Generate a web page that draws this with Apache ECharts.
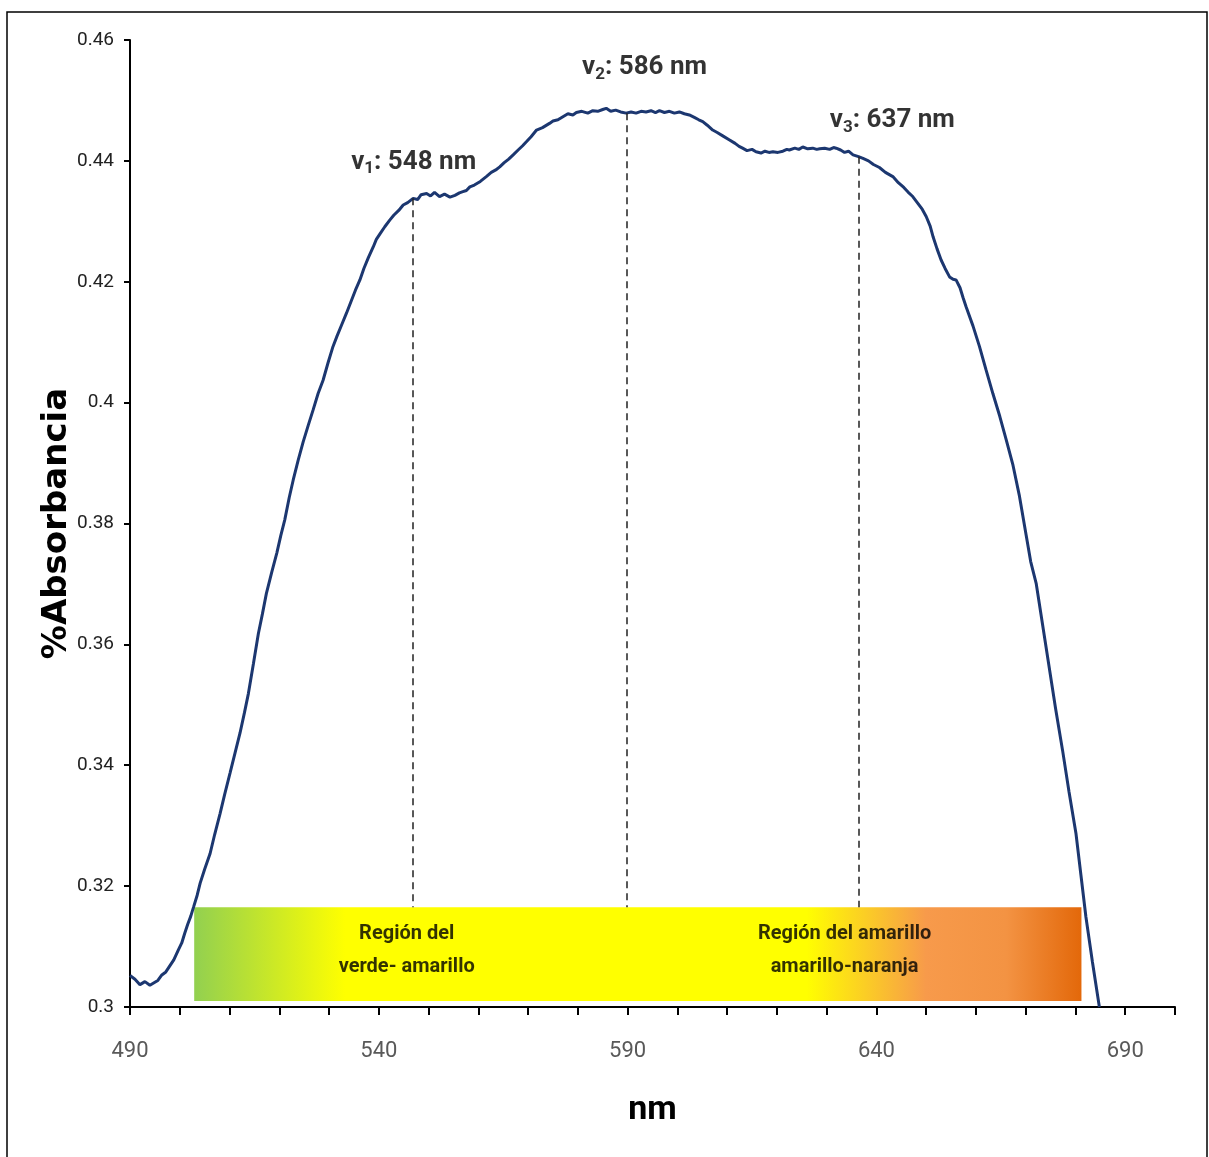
<!DOCTYPE html>
<html>
<head>
<meta charset="utf-8">
<script src="https://cdn.jsdelivr.net/npm/echarts@6/dist/echarts.min.js"></script>
<style>html,body{margin:0;padding:0;background:#fff;}#c{width:1209px;height:1157px;}</style>
</head>
<body>
<div id="c"></div>
<script>
const wavelengths = [490.0,491.0,492.0,493.0,494.0,495.0,495.6,496.4,497.2,498.0,498.8,499.7,500.4,501.0,501.6,502.2,502.8,503.5,504.1,505.0,506.1,507.0,508.1,509.0,510.1,511.1,512.1,513.0,513.8,514.8,515.8,516.6,517.4,518.5,519.5,520.3,521.1,522.0,522.8,523.8,524.8,525.8,526.8,527.8,528.8,529.8,530.8,531.6,532.5,533.5,534.4,535.3,536.2,537.0,537.9,538.9,539.5,540.3,541.2,542.2,543.0,544.0,544.9,545.8,546.9,547.8,548.5,549.6,550.4,551.2,552.2,553.2,554.3,555.3,556.2,556.9,557.6,558.3,559.2,560.4,561.6,562.6,563.5,564.3,565.2,566.1,567.0,568.0,568.9,569.7,570.6,571.7,572.9,574.3,575.0,576.0,577.0,578.0,579.0,579.7,580.8,582.0,583.0,584.0,585.0,585.7,586.6,587.6,588.6,589.7,590.7,591.7,592.7,593.7,594.7,595.6,596.4,597.4,598.4,599.4,600.4,601.4,602.4,603.4,604.3,605.1,606.0,607.1,608.0,609.2,610.4,611.6,612.4,613.1,614.0,615.0,615.8,616.8,617.6,618.4,619.2,620.2,621.2,622.0,622.5,623.6,624.4,625.2,626.2,627.2,628.0,628.6,629.6,630.6,631.4,631.9,632.8,633.6,634.4,635.3,636.4,637.3,638.4,639.4,640.6,641.8,643.3,644.4,645.5,646.4,647.3,648.4,649.2,650.0,650.8,651.4,652.2,653.0,653.8,654.7,655.4,656.0,656.8,657.4,658.0,659.4,660.7,662.0,663.4,664.8,666.1,667.4,668.7,670.1,671.0,672.1,673.4,674.7,676.0,677.4,678.7,680.1,681.1,682.1,683.4,684.8];
const absorbance = [0.3052,0.3046,0.3037,0.3042,0.3036,0.3041,0.3044,0.3053,0.3058,0.3068,0.3078,0.3094,0.3106,0.3122,0.3137,0.3150,0.3166,0.3185,0.3205,0.3228,0.3254,0.3285,0.3320,0.3351,0.3387,0.3420,0.3453,0.3487,0.3519,0.3568,0.3618,0.3650,0.3684,0.3720,0.3751,0.3780,0.3806,0.3843,0.3872,0.3905,0.3935,0.3962,0.3988,0.4015,0.4037,0.4066,0.4093,0.4110,0.4128,0.4148,0.4167,0.4186,0.4203,0.4222,0.4240,0.4258,0.4270,0.4280,0.4291,0.4302,0.4310,0.4318,0.4327,0.4331,0.4338,0.4336,0.4344,0.4346,0.4342,0.4348,0.4341,0.4345,0.4340,0.4343,0.4347,0.4349,0.4351,0.4357,0.4360,0.4366,0.4374,0.4381,0.4385,0.4390,0.4397,0.4403,0.4410,0.4418,0.4425,0.4432,0.4440,0.4451,0.4455,0.4462,0.4466,0.4468,0.4473,0.4478,0.4476,0.4480,0.4482,0.4479,0.4483,0.4482,0.4485,0.4487,0.4482,0.4484,0.4481,0.4479,0.4481,0.4479,0.4482,0.4481,0.4483,0.4480,0.4483,0.4480,0.4482,0.4479,0.4481,0.4478,0.4476,0.4472,0.4468,0.4465,0.4459,0.4451,0.4447,0.4441,0.4435,0.4429,0.4424,0.4421,0.4417,0.4419,0.4415,0.4413,0.4416,0.4414,0.4415,0.4414,0.4416,0.4419,0.4418,0.4421,0.4419,0.4423,0.4420,0.4421,0.4419,0.4420,0.4421,0.4419,0.4422,0.4421,0.4418,0.4414,0.4416,0.4410,0.4407,0.4404,0.4400,0.4394,0.4389,0.4381,0.4374,0.4364,0.4356,0.4348,0.4341,0.4329,0.4320,0.4308,0.4292,0.4274,0.4254,0.4236,0.4222,0.4208,0.4204,0.4203,0.4190,0.4174,0.4159,0.4127,0.4093,0.4055,0.4015,0.3977,0.3938,0.3898,0.3847,0.3780,0.3737,0.3701,0.3632,0.3563,0.3494,0.3425,0.3356,0.3287,0.3218,0.3149,0.3075,0.3000];

const peakWavelengths = [546.8, 589.8, 636.4];
const peakAbsorbance = [0.4338, 0.4479, 0.4407];
const peakIndex = ['1', '2', '3'];
const peakNm = ['548', '586', '637'];

const regionRange = [502.9, 681.2];
const regionValues = [0.3010, 0.3165];
const regionTexts = ['Región del\nverde- amarillo', 'Región del amarillo\namarillo-naranja'];

const xTickLabels = [490, 540, 590, 640, 690];
const yMin = 0.30, yMax = 0.46, yStep = 0.02;
const xMin = 490, xMax = 700, xStep = 10;

const NARROW = "'Liberation Sans Narrow','Arial Narrow',Roboto,sans-serif";

const lineData = wavelengths.map((w, i) => [w, absorbance[i]]);

// annotation anchors (label layout)
const peakLabelAnchors = [[547.0, 0.4398], [593.4, 0.4554], [643.2, 0.4466]];
const regionLabelAnchors = [[545.6, 0.3094], [633.6, 0.3094]];

const chart = echarts.init(document.getElementById('c'), null, {renderer: 'canvas'});
chart.setOption({
  animation: false,
  backgroundColor: '#fff',
  grid: {left: 130, right: 34, top: 40, bottom: 150, containLabel: false},
  xAxis: {
    type: 'value', min: xMin, max: xMax, interval: xStep,
    name: 'nm', nameLocation: 'middle', nameGap: 86,
    nameTextStyle: {fontFamily: NARROW, fontWeight: 'bold', fontSize: 34, color: '#000'},
    axisLine: {show: true, onZero: false, lineStyle: {color: '#000', width: 2}},
    axisTick: {show: true, inside: false, length: 8, lineStyle: {color: '#000', width: 2}},
    axisLabel: {
      margin: 33, fontFamily: NARROW, fontSize: 22, color: '#595959',
      formatter: v => xTickLabels.includes(Math.round(v)) ? String(Math.round(v)) : ''
    },
    splitLine: {show: false}
  },
  yAxis: {
    type: 'value', min: yMin, max: yMax, interval: yStep,
    name: '%Absorbancia', nameLocation: 'middle', nameGap: 56, nameMoveOverlap: false,
    nameTextStyle: {fontFamily: "'DejaVu Sans',sans-serif", fontWeight: 'bold', fontSize: 34, color: '#000'},
    axisLine: {show: true, onZero: false, lineStyle: {color: '#000', width: 2}},
    axisTick: {show: true, inside: false, length: 6, lineStyle: {color: '#000', width: 2}},
    axisLabel: {margin: 16, fontFamily: NARROW, fontSize: 19, color: '#222',
      formatter: v => String(parseFloat(v.toFixed(2)))},
    splitLine: {show: false}
  },
  graphic: [{
    type: 'rect', silent: true, z: 0,
    shape: {x: 7, y: 12, width: 1200, height: 1170},
    style: {fill: 'none', stroke: '#000', lineWidth: 1.5}
  }],
  series: [
    {
      type: 'line', data: lineData, showSymbol: false, smooth: false, z: 3,
      lineStyle: {color: '#1C3770', width: 3},
      markLine: {
        silent: true, symbol: ['none', 'none'], label: {show: false},
        lineStyle: {type: [7, 5], color: '#222', width: 1.5},
        data: peakWavelengths.map((w, i) => [{coord: [w, peakAbsorbance[i]]}, {coord: [w, regionValues[1]]}])
      }
    },
    {
      type: 'line', data: [], z: 5, silent: true,
      markArea: {
        silent: true,
        data: [[{
          coord: [regionRange[0], regionValues[1]],
          itemStyle: {
            color: {
              type: 'linear', x: 0, y: 0, x2: 1, y2: 0,
              colorStops: [
                {offset: 0, color: '#92D050'},
                {offset: 0.17, color: '#FFFF00'},
                {offset: 0.69, color: '#FFFF00'},
                {offset: 0.825, color: '#F79A4B'},
                {offset: 0.915, color: '#F39343'},
                {offset: 1, color: '#E3680A'}
              ]
            }
          }
        }, {coord: [regionRange[1], regionValues[0]]}]]
      }
    },
    {
      type: 'scatter', z: 8, silent: true, symbolSize: 1,
      itemStyle: {color: 'rgba(0,0,0,0)'},
      data: regionLabelAnchors.map((p, i) => ({value: p, label: {formatter: regionTexts[i]}})),
      label: {show: true, position: 'inside', fontFamily: NARROW, fontWeight: 'bold', fontSize: 20,
        color: '#000', lineHeight: 33, align: 'center', verticalAlign: 'middle'}
    },
    {
      type: 'scatter', z: 8, silent: true, symbolSize: 1,
      itemStyle: {color: 'rgba(0,0,0,0)'},
      data: peakLabelAnchors.map((p, i) => ({value: p,
        label: {formatter: '{v|v}{s|' + peakIndex[i] + '}{v|: ' + peakNm[i] + ' nm}'}})),
      label: {show: true, position: 'inside', align: 'center', verticalAlign: 'middle',
        rich: {
          v: {fontFamily: NARROW, fontWeight: 'bold', fontSize: 26, color: '#000'},
          s: {fontFamily: NARROW, fontWeight: 'bold', fontSize: 17, color: '#000', padding: [13, 0, 0, 0]}
        }}
    }
  ]
});
</script>
</body>
</html>
